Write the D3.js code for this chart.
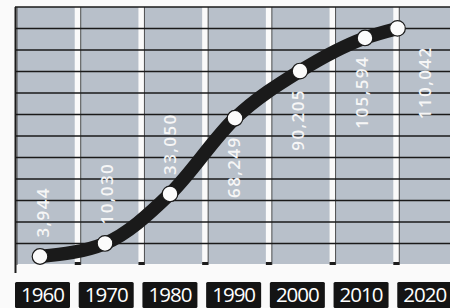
<!DOCTYPE html>
<html>
<head>
<meta charset="utf-8">
<script src="https://cdn.jsdelivr.net/npm/d3@7"></script>
<style>
  html, body { margin: 0; padding: 0; background: #fafafa; }
  svg { display: block; }
</style>
</head>
<body>
<svg id="chart" width="450" height="308"></svg>
<script>
// ---- data ----
const years = ["1960", "1970", "1980", "1990", "2000", "2010", "2020"];
const values = [3944, 10030, 33050, 68249, 90205, 105594, 110042];
const valueLabels = ["3,944", "10,030", "33,050", "68,249", "90,205", "105,594", "110,042"];
// horizontal position of each marker on a year axis
const pointYears = [1960, 1970, 1980, 1990, 2000, 2010, 2015];
const labelSide = ["above", "above", "above", "below", "below", "below", "below"];
const gridTicks = [10000, 20000, 30000, 40000, 50000, 60000, 70000, 80000, 90000, 100000, 110000, 120000];

// ---- layout ----
const W = 450, H = 308;
const plotTop = 7, plotBottom = 265, plotLeft = 17;
const svg = d3.select("#chart");

const xBand = d3.scaleBand().domain(years).range([plotLeft, 457]).paddingInner(0.094).paddingOuter(0);
const xYear = d3.scaleLinear().domain([1960, 2010]).range([40, 365]);
const y = d3.scaleLinear().domain([0, 120000]).range([plotBottom, plotTop]);

// columns
svg.append("g").selectAll("rect").data(years).join("rect")
  .attr("x", d => xBand(d)).attr("y", plotTop)
  .attr("width", xBand.bandwidth()).attr("height", plotBottom - 1 - plotTop)
  .attr("fill", "#b8c0ca");

// column left edges
svg.append("g").selectAll("line").data(years).join("line")
  .attr("x1", d => xBand(d)).attr("x2", d => xBand(d))
  .attr("y1", plotTop).attr("y2", plotBottom)
  .attr("stroke", "#2a2a2a").attr("stroke-width", 1).attr("opacity", 0.8);

// horizontal grid
svg.append("g").selectAll("line").data(gridTicks).join("line")
  .attr("x1", 15).attr("x2", W)
  .attr("y1", d => y(d)).attr("y2", d => y(d))
  .attr("stroke", "#1a1a1a").attr("stroke-width", 1.7);

// dark bits at bottom of gaps
svg.append("g").selectAll("rect").data(years.slice(0, -1)).join("rect")
  .attr("x", d => xBand(d) + xBand.bandwidth()).attr("y", plotBottom - 3)
  .attr("width", xBand.step() - xBand.bandwidth()).attr("height", 3)
  .attr("fill", "#1c1c1c");

// left axis
svg.append("line").attr("x1", 15.5).attr("x2", 15.5).attr("y1", plotTop).attr("y2", 273)
  .attr("stroke", "#1c1c1c").attr("stroke-width", 2);

// line
const pts = values.map((v, i) => [xYear(pointYears[i]), y(v)]);
svg.append("path")
  .attr("d", d3.line().curve(d3.curveMonotoneX)(pts))
  .attr("fill", "none").attr("stroke", "#1a1a1a").attr("stroke-width", 13.5)
  .attr("stroke-linecap", "butt").attr("stroke-linejoin", "round");

svg.append("g").selectAll("circle").data(pts).join("circle")
  .attr("cx", d => d[0]).attr("cy", d => d[1]).attr("r", 7.8)
  .attr("fill", "#fbfbfb").attr("stroke", "#1a1a1a").attr("stroke-width", 1.2);

// value labels
svg.append("g").selectAll("text").data(values).join("text")
  .attr("transform", (v, i) => {
    const cx = xBand(years[i]) + xBand.bandwidth() / 2 - 3;
    const cy = labelSide[i] === "above" ? y(v) - 19 : y(v) + 18;
    return `translate(${cx},${cy}) rotate(-90)`;
  })
  .attr("text-anchor", (v, i) => labelSide[i] === "above" ? "start" : "end")
  .attr("dy", "0.36em")
  .attr("font-family", "Open Sans")
  .attr("font-weight", 600)
  .attr("font-size", 17)
  .attr("letter-spacing", 1.4)
  .attr("fill", "#f6f6f6")
  .text((v, i) => valueLabels[i]);

// year boxes
const boxes = svg.append("g").selectAll("g").data(years).join("g");
boxes.append("rect")
  .attr("x", d => xBand(d) - 2).attr("y", 282)
  .attr("width", 55).attr("height", 26).attr("rx", 1.5)
  .attr("fill", "#141414");
boxes.append("text")
  .attr("x", d => xBand(d) - 2 + 27.5).attr("y", 302)
  .attr("text-anchor", "middle")
  .attr("font-family", "Open Sans")
  .attr("font-size", 20.5)
  .attr("letter-spacing", -1)
  .attr("fill", "#ffffff")
  .text(d => d);
</script>
</body>
</html>
